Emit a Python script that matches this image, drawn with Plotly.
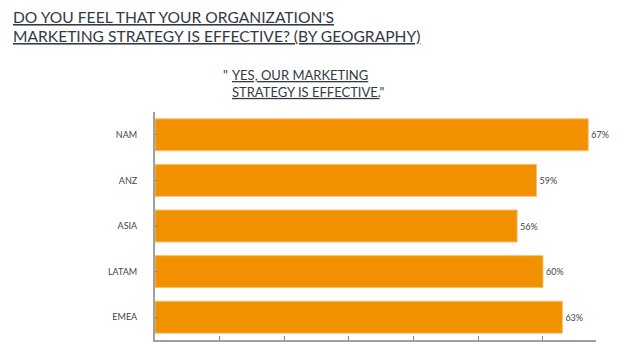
import plotly.graph_objects as go

categories = ["NAM", "ANZ", "ASIA", "LATAM", "EMEA"]
values = [67, 59, 56, 60, 63]
value_labels = ["67%", "59%", "56%", "60%", "63%"]

title_lines = ["DO YOU FEEL THAT YOUR ORGANIZATION'S",
               "MARKETING STRATEGY IS EFFECTIVE? (BY GEOGRAPHY)"]
sub_lines = ["YES, OUR MARKETING", "STRATEGY IS EFFECTIVE."]

# the page body has an 8px default margin, so the figure is drawn 8px in
OFF = 8
W, H = 640 - OFF, 356 - OFF
L, R, T, B = 155 - OFF, 44, 112 - OFF, 16
pw = W - L - R
ph = H - T - B


def px(x):
    return (x - OFF - L) / pw


def py(y):
    return (H - B - (y - OFF)) / ph


FONT = "Lato"

fig = go.Figure(go.Bar(
    x=values, y=categories, orientation="h",
    marker=dict(color="#F29100", line=dict(color="#F8BE70", width=1)),
    text=value_labels, textposition="outside",
    textfont=dict(family=FONT, size=9, color="#444444"),
    cliponaxis=False, width=0.7, hoverinfo="skip",
))

fig.update_layout(
    width=W, height=H,
    margin=dict(l=L, r=R, t=T, b=B, pad=0),
    paper_bgcolor="white", plot_bgcolor="white", showlegend=False,
    font=dict(family=FONT, color="#333333"),
    xaxis=dict(range=[0, 68.2], tick0=0, dtick=10, ticks="inside", ticklen=4,
               tickcolor="#888888", tickwidth=1, showticklabels=False,
               showgrid=False, zeroline=False, showline=True,
               linecolor="#A0A0A0", linewidth=2),
    yaxis=dict(autorange="reversed", ticks="inside", ticklen=3,
               tickcolor="#888888", showline=True, linecolor="#A0A0A0",
               linewidth=2, showgrid=False, zeroline=False,
               tickfont=dict(family=FONT, size=9, color="#444444"),
               ticklabelstandoff=14),
)

sub_text = ("<u>" + sub_lines[0] + "</u><br><u>" + sub_lines[1] + '</u>"')

anns = [
    dict(x=px(12), y=py(7), text="<u>" + title_lines[0] + "</u>", size=15.6),
    dict(x=px(12), y=py(26), text="<u>" + title_lines[1] + "</u>", size=15.6),
    dict(x=px(222), y=py(65.5), text='"', size=13),
    dict(x=px(231), y=py(65.5), text=sub_text, size=13),
]
for a in anns:
    fig.add_annotation(x=a["x"], y=a["y"], xref="paper", yref="paper",
                       xanchor="left", yanchor="top", align="left",
                       showarrow=False, text=a["text"], borderpad=0,
                       font=dict(family=FONT, size=a["size"], color="#333a44"))

fig.write_html("out.html")
